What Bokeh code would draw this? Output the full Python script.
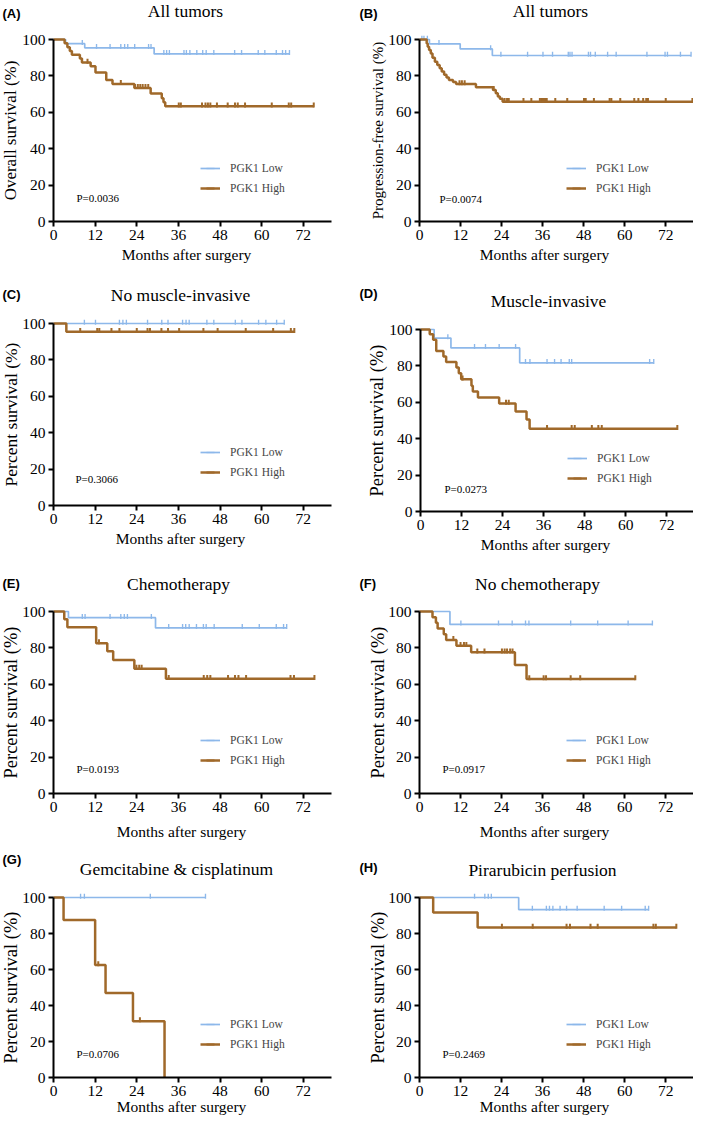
import math
from bokeh.plotting import figure
from bokeh.models import Label, Legend, LegendItem, FixedTicker, Range1d, ColumnDataSource
from bokeh.layouts import column, row
from bokeh.embed import file_html
from bokeh.resources import INLINE

# ---------------- data ----------------
X_TICKS = [0, 12, 24, 36, 48, 60, 72]
Y_TICKS = [0, 20, 40, 60, 80, 100]
SERIES_NAMES = ["PGK1 Low", "PGK1 High"]

# (A) All tumors - overall survival
A_low_t = [3.5, 9.0, 29.0]
A_low_s = [97.7, 95.4, 92.1]
A_low_end = 68.0
A_low_c = [8.3, 12.4, 16.3, 19.4, 20.5, 21.4, 23.4, 27.4, 28.1, 31.8, 32.6, 33.4, 37.6, 38.3,
           39.3, 41.3, 43.0, 44.0, 46.2, 52.2, 54.2, 59.0, 60.9, 64.2, 66.0, 66.9, 68.0]
A_high_t = [3.2, 4.0, 4.7, 5.3, 7.6, 8.2, 10.7, 12.1, 15.2, 17.0, 23.3, 28.0, 31.2, 31.7, 32.2]
A_high_s = [97.9, 95.8, 93.7, 91.6, 89.5, 87.4, 85.3, 81.9, 77.8, 75.6, 73.4, 70.3, 67.7, 65.5, 63.3]
A_high_end = 75.0
A_high_c = [9.8, 19.4, 23.5, 24.3, 25.0, 25.7, 26.5, 27.3, 36.1, 36.7, 42.8, 43.8, 44.5, 45.2,
            47.1, 50.2, 52.3, 53.1, 55.2, 62.9, 67.8, 68.5, 75.0]

# (B) All tumors - progression-free survival
B_low_t = [2.9, 11.9, 21.3]
B_low_s = [97.6, 94.8, 91.2]
B_low_end = 79.4
B_low_c = [0.7, 1.3, 2.3, 5.7, 20.8, 23.8, 31.6, 36.1, 38.9, 43.5, 44.0, 44.6, 49.4, 50.0,
           51.4, 55.0, 57.5, 66.5, 71.8, 72.5, 76.3, 79.4]
B_high_t = [2.1, 2.4, 2.8, 3.3, 3.8, 4.5, 5.2, 5.9, 6.5, 7.2, 7.9, 8.6, 9.8, 10.7, 16.5,
            21.5, 22.3, 22.9, 23.5, 24.3]
B_high_s = [97.8, 96.0, 94.2, 92.3, 90.0, 87.8, 86.0, 84.2, 82.4, 80.6, 79.1, 77.8, 76.7, 75.5,
            73.7, 72.3, 70.5, 68.7, 67.4, 65.8]
B_high_end = 79.8
B_high_c = [11.7, 12.4, 13.2, 21.7, 24.9, 25.6, 26.1, 30.4, 32.7, 35.2, 35.6, 36.0, 36.4, 36.8,
            37.2, 39.7, 43.2, 48.1, 48.6, 51.0, 55.6, 56.1, 58.7, 62.8, 64.0, 65.4, 66.3, 66.8,
            72.0, 79.8]

# (C) No muscle-invasive
C_low_t = []
C_low_s = []
C_low_end = 66.5
C_low_c = [8.9, 12.1, 19.0, 20.0, 21.0, 27.1, 31.2, 33.0, 37.2, 38.2, 39.1, 44.2, 46.2, 52.4,
           54.3, 59.1, 61.2, 64.3, 66.5]
C_high_t = [3.7]
C_high_s = [95.5]
C_high_end = 69.4
C_high_c = [7.7, 12.6, 13.2, 16.7, 19.0, 24.0, 27.1, 27.8, 31.1, 33.0, 36.2, 43.2, 47.3, 55.4,
            63.3, 68.4, 69.4]

# (D) Muscle-invasive
D_low_t = [4.0, 8.9, 29.0]
D_low_s = [95.3, 89.9, 81.7]
D_low_end = 68.2
D_low_c = [8.0, 15.8, 19.0, 23.0, 27.8, 30.7, 32.0, 37.0, 39.2, 41.1, 43.5, 44.2, 67.0, 68.2]
D_high_t = [2.7, 3.7, 4.6, 6.7, 7.5, 10.5, 11.2, 11.9, 14.9, 15.3, 16.8, 23.0, 27.8, 31.0, 31.9]
D_high_s = [97.4, 94.3, 88.2, 85.2, 82.2, 79.1, 76.0, 72.7, 69.1, 65.9, 62.6, 59.3, 54.9, 50.5, 45.4]
D_high_end = 75.1
D_high_c = [12.3, 25.0, 25.8, 37.0, 44.2, 45.1, 50.1, 52.0, 53.0, 75.1]

# (E) Chemotherapy
E_low_t = [4.3, 29.4]
E_low_s = [96.6, 91.0]
E_low_end = 67.2
E_low_c = [8.3, 9.1, 16.3, 19.4, 20.4, 21.3, 28.2, 33.2, 37.2, 38.1, 39.1, 41.2, 43.2, 44.0,
           46.3, 54.4, 59.3, 64.2, 66.3, 67.2]
E_high_t = [3.1, 4.0, 12.3, 15.5, 17.2, 23.3, 32.4]
E_high_s = [95.7, 91.3, 82.6, 78.2, 73.4, 68.6, 63.0]
E_high_end = 75.2
E_high_c = [13.1, 23.9, 24.7, 25.4, 33.2, 43.3, 44.3, 45.2, 50.3, 52.3, 53.3, 55.5, 68.3, 69.3, 75.2]

# (F) No chemotherapy
F_low_t = [8.9]
F_low_s = [92.9]
F_low_end = 68.1
F_low_c = [12.1, 23.1, 27.1, 31.0, 32.0, 44.2, 52.1, 61.0, 68.1]
F_high_t = [3.8, 4.8, 5.3, 7.1, 7.8, 10.8, 15.1, 27.9, 31.3]
F_high_s = [96.9, 93.8, 90.7, 87.5, 84.4, 81.2, 77.6, 70.6, 62.9]
F_high_end = 63.1
F_high_c = [9.9, 12.0, 13.0, 13.7, 16.9, 19.0, 24.1, 24.9, 25.6, 26.5, 27.2, 32.1, 36.3, 37.0,
            44.2, 47.0, 63.1]

# (G) Gemcitabine & cisplatinum
G_low_t = []
G_low_s = []
G_low_end = 43.8
G_low_c = [7.8, 8.9, 27.9, 43.8]
G_high_t = [2.9, 12.0, 15.0, 22.9, 32.0]
G_high_s = [87.5, 62.5, 46.9, 31.3, 0.0]
G_high_end = 32.0
G_high_c = [12.9, 24.9]

# (H) Pirarubicin perfusion
H_low_t = [29.0]
H_low_s = [93.3]
H_low_end = 67.0
H_low_c = [16.1, 19.1, 20.1, 21.0, 33.0, 37.1, 38.0, 39.0, 41.1, 43.0, 46.1, 54.0, 59.1, 66.0, 67.0]
H_high_t = [4.0, 17.0]
H_high_s = [91.7, 83.3]
H_high_end = 75.1
H_high_c = [24.1, 33.1, 43.0, 44.0, 50.0, 52.1, 68.4, 69.1, 75.1]

TITLES = ["All tumors", "All tumors", "No muscle-invasive", "Muscle-invasive",
          "Chemotherapy", "No chemotherapy", "Gemcitabine & cisplatinum", "Pirarubicin perfusion"]
YLABELS = ["Overall survival (%)", "Progression-free survival (%)"] + ["Percent survival (%)"] * 6
PVALUES = ["P=0.0036", "P=0.0074", "P=0.3066", "P=0.0273", "P=0.0193", "P=0.0917", "P=0.0706", "P=0.2469"]
LETTERS = ["(A)", "(B)", "(C)", "(D)", "(E)", "(F)", "(G)", "(H)"]
XLABEL = "Months after surgery"

# ---------------- style ----------------
LOW_COLOR = "#8DB8EA"
HIGH_COLOR = "#A0692A"
SERIF = "Liberation Serif"
X_END = 80.0


def step_xy(times, levels, end):
    xs, ys, cur = [0.0], [100.0], 100.0
    for t, s in zip(times, levels):
        xs += [t, t]
        ys += [cur, s]
        cur = s
    xs.append(end)
    ys.append(cur)
    return xs, ys


def level_at(times, levels, c):
    cur = 100.0
    for t, s in zip(times, levels):
        if t <= c:
            cur = s
    return cur


def make_panel(i, series, geo, off):
    # geo: canvas width/height, pixel column of x=0, pixel rows of y=100 and y=0, px per month
    W, H, fl, y100, y0, pxx = geo
    pxy = (y0 - y100) / 100.0
    sx, sy = 1.0 / pxx, 1.0 / pxy
    x_range = Range1d(-fl * sx, (W - fl) * sx)
    y_range = Range1d(-(H - y0) * sy, y0 * sy)
    p = figure(width=W, height=H, x_range=x_range, y_range=y_range,
               output_backend="svg", toolbar_location=None,
               min_border_left=0, min_border_right=0, min_border_top=0, min_border_bottom=0)
    p.outline_line_color = None
    p.grid.visible = False
    p.background_fill_color = "white"
    p.border_fill_color = "white"

    for ax in p.axis:
        ax.fixed_location = 0
        ax.axis_line_width = 2
        ax.axis_line_color = "black"
        ax.major_tick_line_width = 2
        ax.major_tick_line_color = "black"
        ax.major_tick_out = 5
        ax.major_tick_in = 0
        ax.minor_tick_line_color = None
        ax.major_label_text_font = SERIF
        ax.major_label_text_font_size = "15.5px"
        ax.major_label_text_color = "black"
        ax.major_label_standoff = 3
    p.xaxis.ticker = FixedTicker(ticks=X_TICKS)
    p.yaxis.ticker = FixedTicker(ticks=Y_TICKS)
    p.yaxis.bounds = (0, 100)
    p.xaxis.bounds = (0, X_END)

    items = []
    for (times, levels, end, cens), color, lw, name in zip(
            series, [LOW_COLOR, HIGH_COLOR], [1.7, 2.5], SERIES_NAMES):
        xs, ys = step_xy(times, levels, end)
        lr = p.line(x="x", y="y", source=ColumnDataSource(dict(x=xs, y=ys)),
                    line_color=color, line_width=lw)
        cy = [level_at(times, levels, c) + 1.3 * sy for c in cens]
        cr = p.scatter(x="x", y="y", source=ColumnDataSource(dict(x=cens, y=cy)),
                       marker="dash", angle=math.pi / 2, size=5,
                       line_color=color, line_width=lw * 0.8)
        items.append(LegendItem(label=name, renderers=[lr, cr]))

    leg = Legend(items=items, location=(fl + 147, H - y0 + 23), glyph_width=20, glyph_height=20,
                 label_height=20, label_standoff=10, spacing=0, padding=0, margin=0,
                 border_line_color=None, background_fill_alpha=0,
                 label_text_font=SERIF, label_text_font_size="11.5px")
    p.add_layout(leg)

    def lab(dx, y, text, **kw):
        p.add_layout(Label(x=dx * sx, y=y, text=text, text_color="black", **kw))

    # title (offsets in px measured upward from y=100)
    lab(off["title_dx"], 100 + off["title_up"] * sy, TITLES[i], text_font=SERIF,
        text_font_size="17.5px", text_align="center", text_baseline="middle")
    # panel letter
    lab(off["let_dx"], 100 + off["let_up"] * sy, LETTERS[i], text_font="Liberation Sans",
        text_font_style="bold", text_font_size="13px", text_align="left", text_baseline="middle")
    # y axis title
    lab(off["ylab_dx"], 50, YLABELS[i], angle=math.pi / 2, text_font=SERIF,
        text_font_size=off["ylab_fs"], text_align="center", text_baseline="middle")
    # x axis title
    lab(off["xlab_dx"], -off["xlab_down"] * sy, XLABEL, text_font=SERIF,
        text_font_size="15.5px", text_align="center", text_baseline="middle")
    # p value
    lab(off["p_dx"], off["p_up"] * sy, PVALUES[i], text_font=SERIF,
        text_font_size="11px", text_align="left", text_baseline="middle")
    return p


SERIES = [
    [(A_low_t, A_low_s, A_low_end, A_low_c), (A_high_t, A_high_s, A_high_end, A_high_c)],
    [(B_low_t, B_low_s, B_low_end, B_low_c), (B_high_t, B_high_s, B_high_end, B_high_c)],
    [(C_low_t, C_low_s, C_low_end, C_low_c), (C_high_t, C_high_s, C_high_end, C_high_c)],
    [(D_low_t, D_low_s, D_low_end, D_low_c), (D_high_t, D_high_s, D_high_end, D_high_c)],
    [(E_low_t, E_low_s, E_low_end, E_low_c), (E_high_t, E_high_s, E_high_end, E_high_c)],
    [(F_low_t, F_low_s, F_low_end, F_low_c), (F_high_t, F_high_s, F_high_end, F_high_c)],
    [(G_low_t, G_low_s, G_low_end, G_low_c), (G_high_t, G_high_s, G_high_end, G_high_c)],
    [(H_low_t, H_low_s, H_low_end, H_low_c), (H_high_t, H_high_s, H_high_end, H_high_c)],
]

ROW_H = [277, 279, 286, 273]
LW, RW = 346, 347
GEO = [
    (LW, ROW_H[0], 53, 39, 221, 3.47), (RW, ROW_H[0], 73, 39, 221, 3.42),
    (LW, ROW_H[1], 53, 46, 228, 3.47), (RW, ROW_H[1], 74, 52, 234, 3.42),
    (LW, ROW_H[2], 53, 55, 237, 3.47), (RW, ROW_H[2], 73, 55, 237, 3.42),
    (LW, ROW_H[3], 53, 55, 235, 3.47), (RW, ROW_H[3], 73, 55, 235, 3.42),
]


def offs(title_dx, let_dx, let_up, ylab_dx, ylab_fs, xlab_dx, xlab_down, p_dx, p_up, title_up=29):
    return dict(title_dx=title_dx, title_up=title_up, let_dx=let_dx, let_up=let_up,
                ylab_dx=ylab_dx, ylab_fs=ylab_fs, xlab_dx=xlab_dx, xlab_down=xlab_down,
                p_dx=p_dx, p_up=p_up)


OFFS = [
    offs(132, -51, 26, -43, "17px", 133, 33, 23, 24),
    offs(131, -60, 26, -42, "15px", 125, 33, 20, 23),
    offs(127, -51, 29, -43, "17.5px", 127, 33, 22, 27),
    offs(128, -61, 36, -44, "18.5px", 125, 33, 24, 23),
    offs(125, -51, 28, -43, "18.5px", 128, 38, 23, 25, title_up=28),
    offs(118, -60, 28, -42, "18.5px", 125, 38, 23, 25, title_up=28),
    offs(123, -51, 38, -43, "18.5px", 128, 29, 23, 24),
    offs(123, -60, 30, -42, "18.5px", 125, 29, 23, 24, title_up=28),
]

panels = [make_panel(i, SERIES[i], GEO[i], OFFS[i]) for i in range(8)]
layout = column(row(panels[0], panels[1]), row(panels[2], panels[3]),
                row(panels[4], panels[5]), row(panels[6], panels[7]))

open("out.html", "w").write(file_html(layout, INLINE))
